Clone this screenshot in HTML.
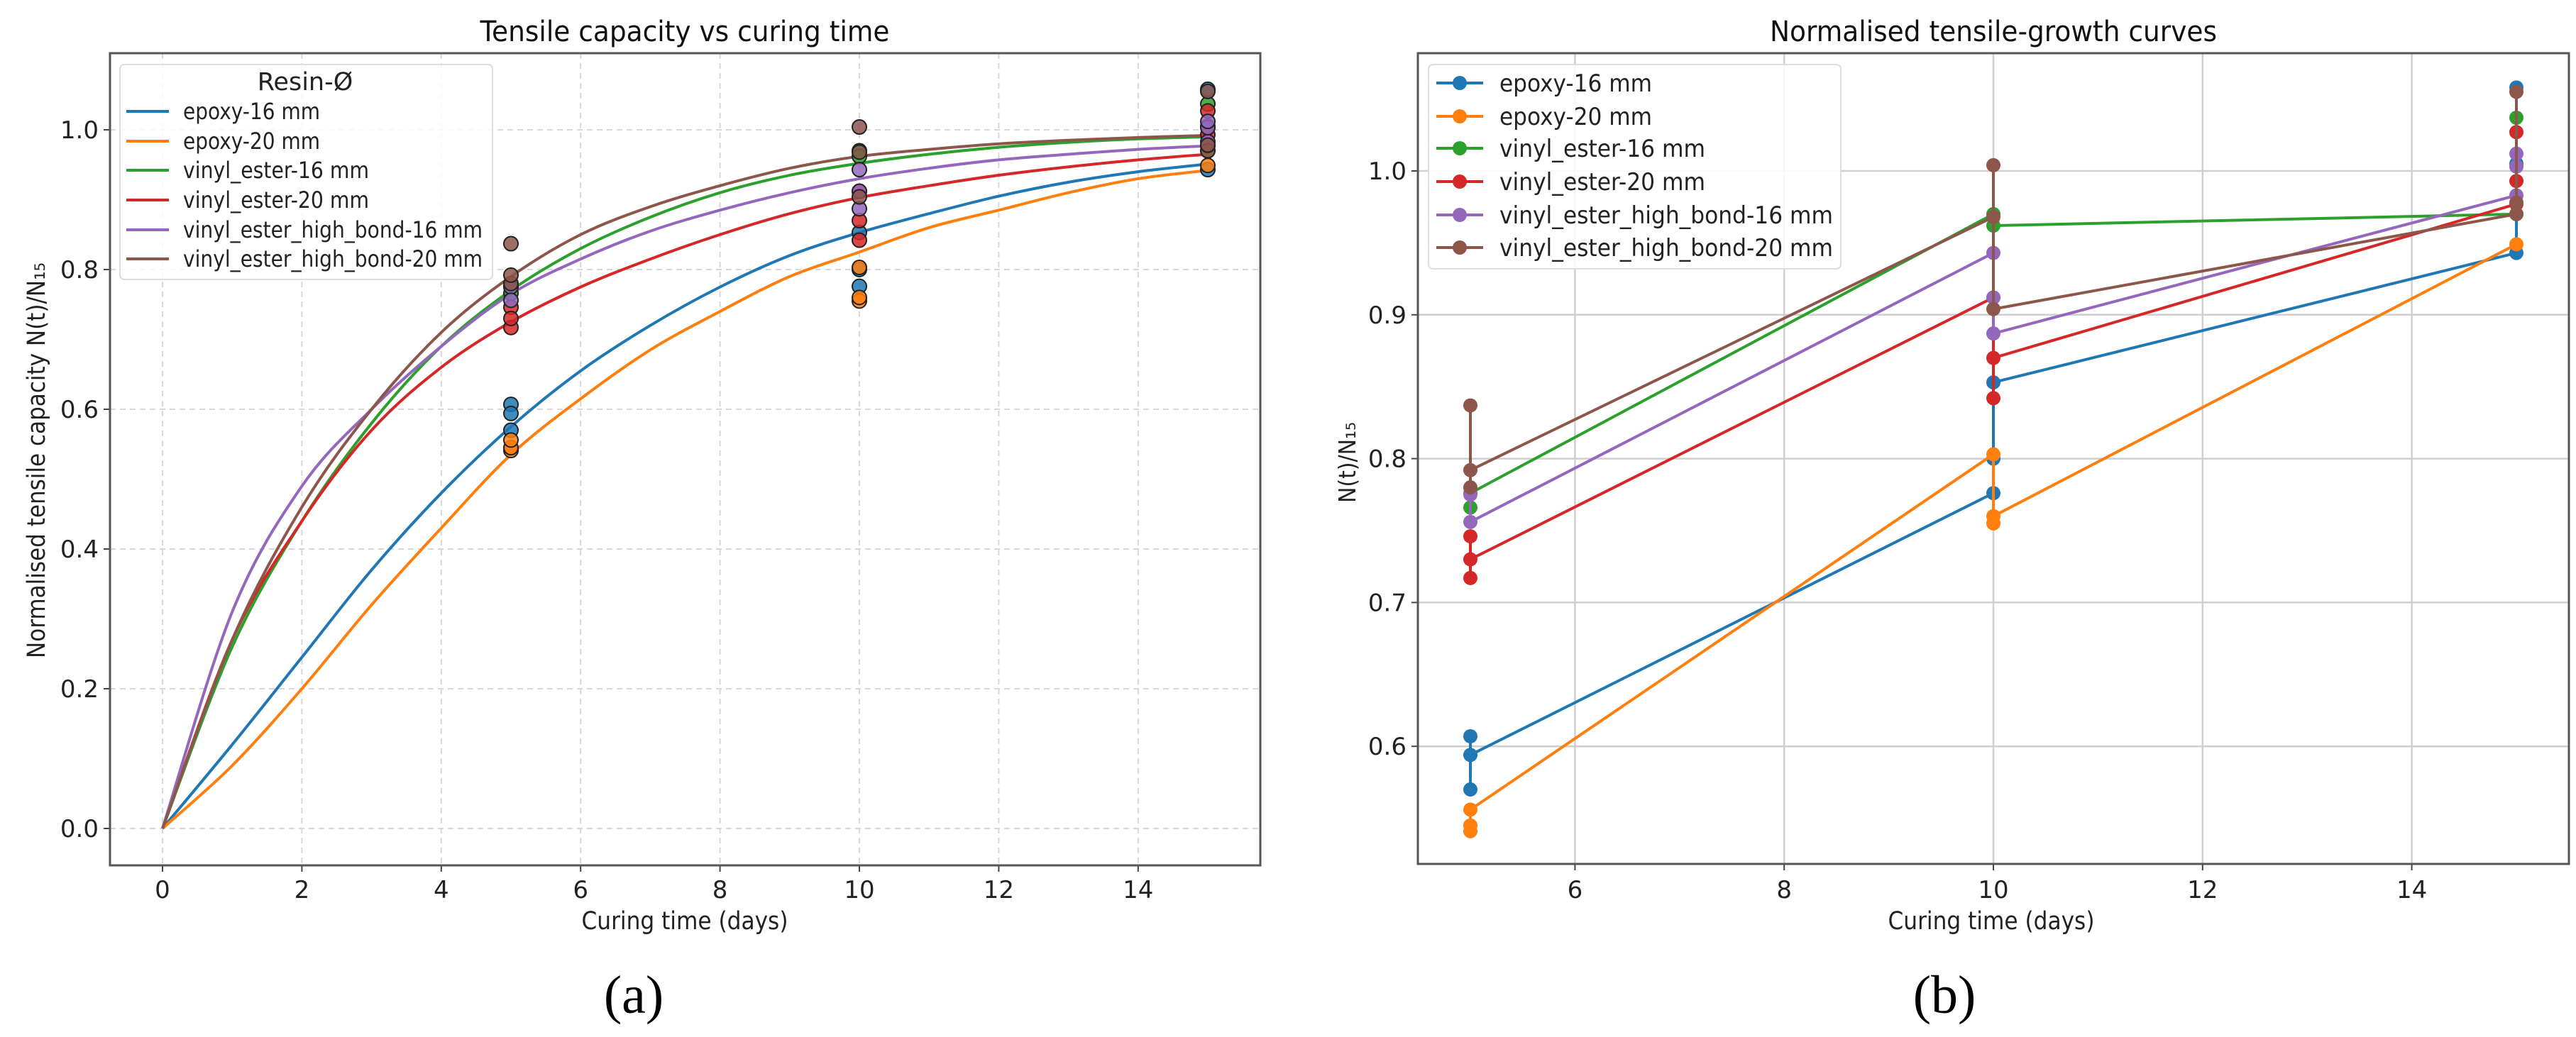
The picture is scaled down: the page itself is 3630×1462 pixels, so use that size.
<!DOCTYPE html>
<html><head><meta charset="utf-8">
<style>
html,body{margin:0;padding:0;background:#fff;}
svg{display:block;font-family:"DejaVu Sans","Liberation Sans",sans-serif;}
</style></head>
<body>
<svg id="fig" width="3630" height="1462" viewBox="0 0 3630 1462" xmlns="http://www.w3.org/2000/svg">
<rect width="3630" height="1462" fill="#fff"/>
<g id="chartA"></g>
<g id="chartB"></g>
<text x="893" y="1428" font-family="Liberation Serif, serif" font-size="76" text-anchor="middle">(a)</text>
<text x="2740" y="1428" font-family="Liberation Serif, serif" font-size="76" text-anchor="middle">(b)</text>
</svg>
<script>
const seriesNames = ["epoxy-16 mm","epoxy-20 mm","vinyl_ester-16 mm","vinyl_ester-20 mm","vinyl_ester_high_bond-16 mm","vinyl_ester_high_bond-20 mm"];
const colors = ["#1f77b4","#ff7f0e","#2ca02c","#d62728","#9467bd","#8c564b"];
// measured points (in plotting order)
const ptsX = [5,5,5,10,10,10,15,15,15];
const epoxy16 = [[5,0.607],[5,0.570],[5,0.594],[10,0.776],[10,0.800],[10,0.853],[15,0.943],[15,1.005],[15,1.058]];
const epoxy20 = [[5,0.541],[5,0.545],[5,0.556],[10,0.803],[10,0.755],[10,0.760],[15,0.949]];
const vinyl16 = [[5,0.766],[5,0.776],[10,0.970],[10,0.962],[15,0.970],[15,1.037]];
const vinyl20 = [[5,0.717],[5,0.746],[5,0.730],[10,0.912],[10,0.842],[10,0.870],[15,0.977],[15,0.993],[15,1.027]];
const hb16 = [[5,0.775],[5,0.756],[10,0.943],[10,0.912],[10,0.887],[15,0.983],[15,1.003],[15,1.012]];
const hb20 = [[5,0.837],[5,0.780],[5,0.792],[10,0.968],[10,1.004],[10,0.904],[15,0.970],[15,0.978],[15,1.055]];
const measured = [epoxy16,epoxy20,vinyl16,vinyl20,hb16,hb20];
// fitted curves sampled at t = 0..15
const curveT = [0,1,2,3,4,5,6,7,8,9,10,11,12,13,14,15];
const fitEpoxy16 = [0,0.12,0.245,0.37,0.48,0.575,0.655,0.72,0.775,0.82,0.853,0.88,0.905,0.925,0.94,0.951];
const fitEpoxy20 = [0,0.09,0.20,0.32,0.43,0.535,0.615,0.685,0.74,0.79,0.825,0.86,0.885,0.91,0.93,0.942];
const fitVinyl16 = [0,0.26,0.44,0.58,0.69,0.77,0.83,0.875,0.91,0.935,0.952,0.965,0.975,0.982,0.987,0.99];
const fitVinyl20 = [0,0.27,0.44,0.57,0.66,0.725,0.775,0.815,0.85,0.88,0.903,0.92,0.935,0.947,0.957,0.965];
const fitHb16 = [0,0.31,0.49,0.60,0.69,0.765,0.815,0.855,0.885,0.91,0.93,0.945,0.957,0.965,0.972,0.977];
const fitHb20 = [0,0.27,0.46,0.60,0.71,0.79,0.85,0.89,0.92,0.945,0.962,0.972,0.98,0.985,0.989,0.992];
const fits = [fitEpoxy16,fitEpoxy20,fitVinyl16,fitVinyl20,fitHb16,fitHb20];
const ticksXA = [0,2,4,6,8,10,12,14];
const ticksYA = [0.0,0.2,0.4,0.6,0.8,1.0];
const ticksXB = [6,8,10,12,14];
const ticksYB = [0.6,0.7,0.8,0.9,1.0];

const NS="http://www.w3.org/2000/svg";
function mk(parent,tag,attrs,text){const e=document.createElementNS(NS,tag);for(const k in attrs)e.setAttribute(k,attrs[k]);if(text!==undefined)e.textContent=text;parent.appendChild(e);return e;}

// ---------- Chart A ----------
const A = document.getElementById('chartA');
const aL=155,aR=1776,aT=75,aB=1220;
const axA = t => 229 + (t-0)*98.2;
const ayA = v => 1168 - v*985;
// grid
ticksXA.forEach(t=>{
  const g=mk(A,'line',{x1:axA(t),x2:axA(t),y1:aT,y2:aB,stroke:'#d8d8d8','stroke-width':2,'stroke-dasharray':'8,6'});
  
  
  const tk=mk(A,'line',{x1:axA(t),x2:axA(t),y1:aB,y2:aB+9,stroke:'#444','stroke-width':2});
  
  
  const lb=mk(A,'text',{x:axA(t),y:1266,'font-size':34,'text-anchor':'middle',fill:'#222'},String(t));
  
  
});
ticksYA.forEach(v=>{
  const g=mk(A,'line',{x1:aL,x2:aR,y1:ayA(v),y2:ayA(v),stroke:'#d8d8d8','stroke-width':2,'stroke-dasharray':'8,6'});
  
  
  const tk=mk(A,'line',{x1:aL-9,x2:aL,y1:ayA(v),y2:ayA(v),stroke:'#444','stroke-width':2});
  
  
  const lb=mk(A,'text',{x:aL-16,y:ayA(v)+12,'font-size':34,'text-anchor':'end',fill:'#222'},v.toFixed(1));
  
  
});
function smoothPath(pts){
  let d='M'+pts[0][0]+','+pts[0][1];
  for(let i=0;i<pts.length-1;i++){
    const p0=pts[Math.max(0,i-1)],p1=pts[i],p2=pts[i+1],p3=pts[Math.min(pts.length-1,i+2)];
    const c1=[p1[0]+(p2[0]-p0[0])/6,p1[1]+(p2[1]-p0[1])/6];
    const c2=[p2[0]-(p3[0]-p1[0])/6,p2[1]-(p3[1]-p1[1])/6];
    d+=' C'+c1[0]+','+c1[1]+' '+c2[0]+','+c2[1]+' '+p2[0]+','+p2[1];
  }
  return d;
}
fits.forEach((f,i)=>{
  const pts=curveT.map((t,j)=>[axA(t),ayA(f[j])]);
  const p=mk(A,'path',{d:smoothPath(pts),fill:'none',stroke:colors[i],'stroke-width':4});
  
  
});
measured.forEach((s,i)=>{
  s.forEach((pt,j)=>{
    const c=mk(A,'circle',{cx:axA(pt[0]),cy:ayA(pt[1]),r:10,fill:colors[i],'fill-opacity':0.85,stroke:'#222','stroke-width':2});
    
    
  });
});
const frA=mk(A,'rect',{x:aL,y:aT,width:aR-aL,height:aB-aT,fill:'none',stroke:'#555','stroke-width':3});


const tA=mk(A,'text',{x:965,y:58,'font-size':40,'text-anchor':'middle',fill:'#111',textLength:577,lengthAdjust:'spacingAndGlyphs'},'Tensile capacity vs curing time');


const xlA=mk(A,'text',{x:965,y:1310,'font-size':35,'text-anchor':'middle',fill:'#222',textLength:291,lengthAdjust:'spacingAndGlyphs'},'Curing time (days)');


const ylA=mk(A,'text',{x:0,y:0,'font-size':35,'text-anchor':'middle',fill:'#222',transform:'translate(63,649) rotate(-90)',textLength:558,lengthAdjust:'spacingAndGlyphs'},'Normalised tensile capacity N(t)/N\u2081\u2085');


// legend A
const lgA=mk(A,'g',{});


mk(lgA,'rect',{x:169,y:91,width:525,height:303,rx:6,fill:'#fff','fill-opacity':0.85,stroke:'#ddd','stroke-width':2});
const lgTA=mk(lgA,'text',{x:430,y:127,'font-size':35,'text-anchor':'middle',fill:'#222'},'Resin-Ø');


const legYA=[157,199,240,282,324,365];
seriesNames.forEach((n,i)=>{
  const g=mk(lgA,'g',{});
  
  
  mk(g,'line',{x1:178,x2:238,y1:legYA[i],y2:legYA[i],stroke:colors[i],'stroke-width':4});
  const w=[193,193,262,262,422,422][i];
  mk(g,'text',{x:258,y:legYA[i]+11,'font-size':32,fill:'#222',textLength:w,lengthAdjust:'spacingAndGlyphs'},n);
});

// ---------- Chart B ----------
const B=document.getElementById('chartB');
const bL=1998,bR=3620,bT=75,bB=1218;
const axB = t => 2072 + (t-5)*147.4;
const ayB = v => 241 + (1.0-v)*2028;
ticksXB.forEach(t=>{
  const g=mk(B,'line',{x1:axB(t),x2:axB(t),y1:bT,y2:bB,stroke:'#cfcfcf','stroke-width':2.5});
  
  
  const tk=mk(B,'line',{x1:axB(t),x2:axB(t),y1:bB,y2:bB+9,stroke:'#444','stroke-width':2});
  
  
  const lb=mk(B,'text',{x:axB(t),y:1266,'font-size':34,'text-anchor':'middle',fill:'#222'},String(t));
  
  
});
ticksYB.forEach(v=>{
  const g=mk(B,'line',{x1:bL,x2:bR,y1:ayB(v),y2:ayB(v),stroke:'#cfcfcf','stroke-width':2.5});
  
  
  const tk=mk(B,'line',{x1:bL-9,x2:bL,y1:ayB(v),y2:ayB(v),stroke:'#444','stroke-width':2});
  
  
  const lb=mk(B,'text',{x:bL-16,y:ayB(v)+12,'font-size':34,'text-anchor':'end',fill:'#222'},v.toFixed(1));
  
  
});
measured.forEach((s,i)=>{
  const g=mk(B,'g',{});
  
  
  const pl=mk(g,'polyline',{points:s.map(p=>axB(p[0])+','+ayB(p[1])).join(' '),fill:'none',stroke:colors[i],'stroke-width':4});
  
  
  s.forEach(p=>{
    const c=mk(g,'circle',{cx:axB(p[0]),cy:ayB(p[1]),r:10,fill:colors[i]});
    
    
  });
});
const frB=mk(B,'rect',{x:bL,y:bT,width:bR-bL,height:bB-bT,fill:'none',stroke:'#555','stroke-width':3});


const tB=mk(B,'text',{x:2809,y:58,'font-size':40,'text-anchor':'middle',fill:'#111',textLength:630,lengthAdjust:'spacingAndGlyphs'},'Normalised tensile-growth curves');


const xlB=mk(B,'text',{x:2806,y:1310,'font-size':35,'text-anchor':'middle',fill:'#222',textLength:291,lengthAdjust:'spacingAndGlyphs'},'Curing time (days)');


const ylB=mk(B,'text',{x:0,y:0,'font-size':33,'text-anchor':'middle',fill:'#222',transform:'translate(1910,652) rotate(-90)',textLength:114,lengthAdjust:'spacingAndGlyphs'},'N(t)/N\u2081\u2085');


const lgB=mk(B,'g',{});


mk(lgB,'rect',{x:2013,y:91,width:581,height:288,rx:6,fill:'#fff','fill-opacity':0.85,stroke:'#ddd','stroke-width':2});
const legYB=[117,164,209,256,303,349];
seriesNames.forEach((n,i)=>{
  const g=mk(lgB,'g',{});
  
  
  mk(g,'line',{x1:2024,x2:2090,y1:legYB[i],y2:legYB[i],stroke:colors[i],'stroke-width':4});
  mk(g,'circle',{cx:2057,cy:legYB[i],r:10,fill:colors[i]});
  const w=[215,215,290,290,470,470][i];
  mk(g,'text',{x:2113,y:legYB[i]+12,'font-size':34,fill:'#222',textLength:w,lengthAdjust:'spacingAndGlyphs'},n);
});
</script>
</body></html>
